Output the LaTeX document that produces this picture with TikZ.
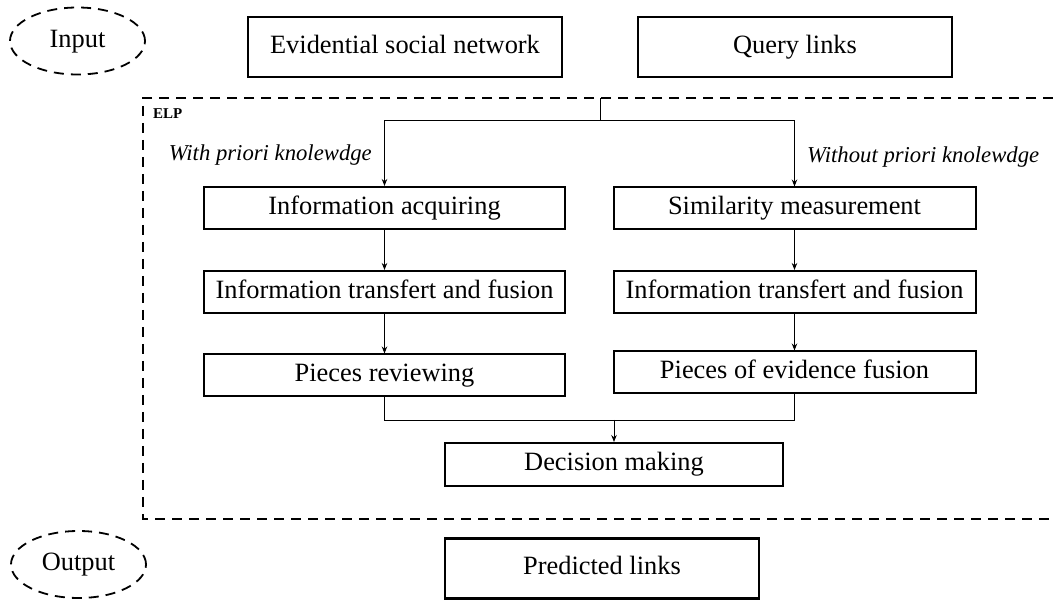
\documentclass[tikz,border=0pt]{standalone}
\usepackage{fontspec}
\setmainfont{Liberation Serif}
\usetikzlibrary{shapes.geometric,arrows.meta}
\begin{document}
\begin{tikzpicture}[x=1pt,y=-1pt,
  txt/.style={font=\fontsize{26.4}{30}\selectfont,text height=18pt,text depth=5.5pt},
  iobox/.style={draw,txt,line width=2pt,minimum width=314pt,minimum height=60pt,inner sep=0pt},
  stepbox/.style={draw,txt,line width=2pt,minimum width=361pt,minimum height=42pt,inner sep=0pt},
  dashell/.style={draw,ellipse,txt,line width=1.8pt,dash pattern=on 10pt off 7pt,minimum width=135pt,minimum height=67pt,inner sep=0pt},
  lbl/.style={font=\fontsize{22.7}{26}\selectfont\itshape,inner sep=0pt},
  arr/.style={line width=0.9pt,-{Stealth[length=7pt,width=5.5pt]}},
  ln/.style={line width=0.9pt}]
\useasboundingbox (0,0) rectangle (1053,601);
% input / output
\node[dashell] (in) at (77.5,41) {Input};
\node[iobox] (esn) at (405,47) {Evidential social network};
\node[iobox] (ql) at (795,47) {Query links};
\node[dashell] (out) at (78.5,564.5) {Output};
\node[iobox,line width=2.8pt] (pl) at (602,568.5) {Predicted links};
% ELP frame
\draw[line width=1.8pt,dash pattern=on 10pt off 7pt] (1053,98) -- (143,98) -- (143,519) -- (1053,519);
\node[font=\fontsize{15}{17}\selectfont\bfseries,anchor=west,inner sep=0pt] (elp) at (153,114) {ELP};
% steps
\node[stepbox] (acq) at (384.5,208) {Information acquiring};
\node[stepbox] (itf1) at (384.5,292) {Information transfert and fusion};
\node[stepbox] (rev) at (384.5,375.5) {Pieces reviewing};
\node[stepbox,minimum width=362pt] (sim) at (794.5,208.5) {Similarity measurement};
\node[stepbox,minimum width=362pt] (itf2) at (794.5,292) {Information transfert and fusion};
\node[stepbox,minimum width=362pt] (evf) at (794.5,372.5) {Pieces of evidence fusion};
\node[stepbox,minimum width=338pt,minimum height=43pt] (dec) at (614,464.5) {Decision making};
% labels
\node[lbl,anchor=east] (wl) at (372,155) {With priori knolewdge};
\node[lbl,anchor=west] (wol) at (807,157) {Without priori knolewdge};
% connectors
\coordinate (top) at (600,98);
\coordinate (split) at (600,120);
\coordinate (merge) at (614,420);
\draw[ln] (top) -- (split);
\draw[arr] (split) -| (acq.north);
\draw[arr] (split) -| (sim.north);
\draw[arr] (acq) -- (itf1);
\draw[arr] (itf1) -- (rev);
\draw[arr] (sim) -- (itf2);
\draw[arr] (itf2) -- (evf);
\draw[ln] (rev.south) |- (merge);
\draw[ln] (evf.south) |- (merge);
\draw[arr] (merge) -- (dec.north);
\end{tikzpicture}
\end{document}
